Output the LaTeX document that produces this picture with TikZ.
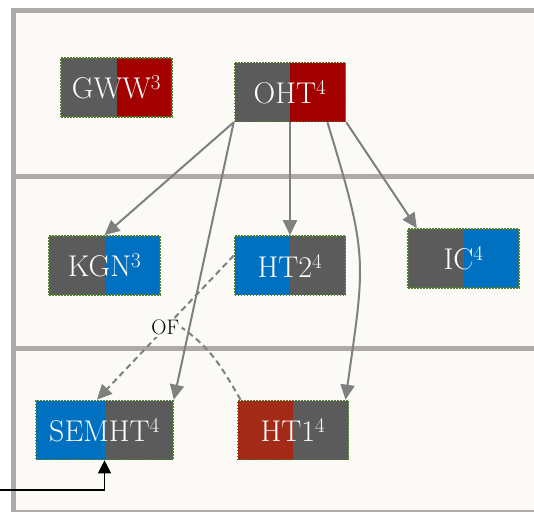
\documentclass[tikz,border=0pt]{standalone}
\usepackage{fontspec}
\usepackage{tikz}
\usetikzlibrary{arrows.meta}

\definecolor{lanegray}{HTML}{ADAAA8}
\definecolor{lanebg}{HTML}{FBFAF6}
\definecolor{boxgray}{HTML}{5B5B5B}
\definecolor{boxred}{HTML}{A30000}
\definecolor{boxblue}{HTML}{0070C0}
\definecolor{boxrust}{HTML}{A32A17}
\definecolor{boxedge}{HTML}{4F7F2A}
\definecolor{linkgray}{HTML}{808080}

\begin{document}
\begin{tikzpicture}[x=1pt, y=1pt,
			lane/.style={line width=5pt, color=lanegray},
			box/.style 2 args={
				minimum width=111pt,
				minimum height=59pt,
				inner sep=0pt,
				draw=boxedge,
				dash pattern=on 1.6pt off 1.4pt,
				line width=1.6pt,
				text=white,
				font=\fontsize{30}{34}\selectfont,
				path picture={
					\fill[#1] (path picture bounding box.south west) rectangle (path picture bounding box.north);
					\fill[#2] (path picture bounding box.south) rectangle (path picture bounding box.north east);
				}},
			link/.style={-{Triangle[length=15pt,width=14pt]}, line width=2pt, color=linkgray},
			dashlink/.style={link, dash pattern=on 6pt off 4pt},
			relabel/.style={
				fill=lanebg,
				inner sep=1.5pt,
				text=black,
				font=\fontsize{21}{24}\selectfont}]
			\useasboundingbox (0,0) rectangle (534,-511);
			\clip (0,0) rectangle (534,-511);
			% lanes
			\fill[lanebg] (13.5,-10.5) rectangle (560,-512.5);
			\draw[lane] (13.5,-10.5) rectangle (560,-512.5);
			\draw[lane] (13.5,-176.5) -- (560,-176.5);
			\draw[lane] (13.5,-348) -- (560,-348);
			% boxes
			\node[box={boxgray}{boxred}] (GWW) at (116.5,-87.5) {GWW\textsuperscript{3}};
			\node[box={boxgray}{boxred}] (OHT) at (290,-92) {OHT\textsuperscript{4}};
			\node[box={boxgray}{boxblue}] (KGN) at (104.5,-265.5) {KGN\textsuperscript{3}};
			\node[box={boxblue}{boxgray}] (HT2) at (290,-265.5) {HT2\textsuperscript{4}};
			\node[box={boxgray}{boxblue}] (IC) at (463.5,-258.5) {IC\textsuperscript{4}};
			\node[box={boxblue}{boxgray}, minimum width=137pt] (SEMHT) at (104.5,-430) {SEMHT\textsuperscript{4}};
			\node[box={boxrust}{boxgray}] (HT1) at (293,-430) {HT1\textsuperscript{4}};
			% links
			\draw[link] (OHT.south west) -- (KGN.north);
			\draw[link] (OHT.south west) -- (SEMHT.north east);
			\draw[link] (OHT.south) -- (HT2.north);
			\draw[link] (OHT.-39) to[out=-73, in=82, looseness=1.3] (HT1.30);
			\draw[link] (OHT.south east) -- (IC.147);
			\draw[dashlink] (HT2.170) -- node[relabel] (of) {OF} (SEMHT.104);
			\draw[dashlink, -] (HT1.150) to[out=120, in=-35] (of.east);
			\coordinate (entry) at (0,-490);
			\draw[-{Triangle[length=13pt,width=13pt]}, line width=1.2pt] (entry) -| (SEMHT.south);
			\end{tikzpicture}
\end{document}
